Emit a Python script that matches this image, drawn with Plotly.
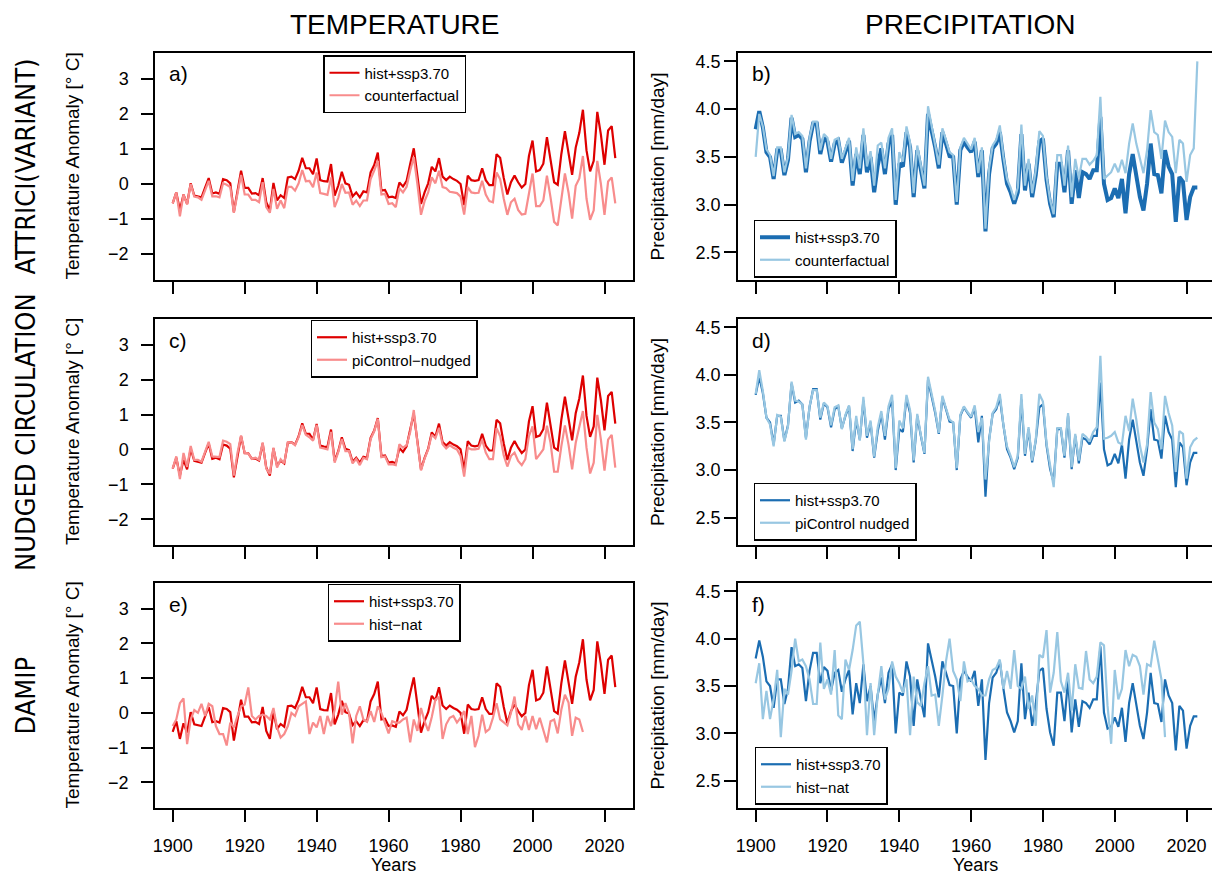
import plotly.graph_objects as go

# The page body adds an 8 px margin; the figure is sized to fit inside the window.
OX, OY = 8, 8
W, H = 1220 - OX, 877 - OY

years = list(range(1900, 2024))
years_nat = list(range(1900, 2015))

# ---------------- Temperature anomaly [deg C] ----------------
temp_hist = [
    -0.55, -0.24, -0.75, -0.30, -0.57, 0.02, -0.33, -0.35, -0.38, -0.10,
    0.17, -0.27, -0.24, -0.28, 0.14, 0.11, 0.02, -0.80, -0.19, 0.38,
    -0.11, -0.11, -0.27, -0.26, -0.32, 0.17, -0.52, -0.75, 0.03, -0.47,
    -0.32, -0.40, 0.19, 0.21, 0.14, 0.38, 0.75, 0.45, 0.45, 0.28,
    0.73, 0.11, 0.08, 0.07, 0.57, -0.33, -0.05, 0.35, 0.02, -0.02,
    -0.35, -0.24, -0.38, -0.21, -0.24, 0.33, 0.54, 0.90, -0.19, -0.17,
    -0.38, -0.36, -0.40, 0.04, -0.07, 0.09, 0.57, 1.02, 0.24, -0.57,
    -0.24, 0.02, 0.49, 0.36, 0.74, 0.21, 0.11, 0.21, 0.14, 0.09,
    0.00, -0.60, 0.24, 0.11, 0.09, 0.11, 0.45, 0.11, -0.03, -0.03,
    0.85, 0.75, 0.17, -0.30, 0.05, 0.24, 0.05, -0.10, 0.00, 0.80,
    1.24, 0.36, 0.40, 0.58, 1.34, 0.75, 0.05, -0.02, 0.85, 1.51,
    0.94, 0.26, 1.04, 1.46, 2.12, 0.96, 0.36, 0.66, 2.06, 1.41,
    0.55, 1.53, 1.65, 0.74]

temp_counterfactual = [
    -0.55, -0.24, -0.92, -0.30, -0.58, 0.00, -0.36, -0.38, -0.45, -0.17,
    0.09, -0.35, -0.35, -0.38, 0.02, -0.02, -0.09, -0.82, -0.30, 0.26,
    -0.30, -0.30, -0.45, -0.45, -0.52, 0.05, -0.66, -0.82, -0.14, -0.71,
    -0.47, -0.69, -0.08, -0.08, -0.19, 0.02, 0.40, 0.08, 0.09, -0.09,
    0.33, -0.26, -0.28, -0.31, 0.19, -0.66, -0.40, 0.00, -0.25, -0.24,
    -0.59, -0.47, -0.63, -0.47, -0.47, 0.14, 0.38, 0.66, -0.30, -0.28,
    -0.57, -0.55, -0.66, -0.12, -0.24, -0.08, 0.38, 0.77, 0.00, -0.88,
    -0.49, -0.24, 0.19, 0.02, 0.38, -0.09, -0.12, -0.22, -0.24, -0.26,
    -0.36, -0.87, -0.09, -0.24, -0.26, -0.25, 0.09, -0.30, -0.49, -0.52,
    0.33, 0.14, -0.42, -0.88, -0.52, -0.42, -0.74, -0.87, -0.85, -0.28,
    0.30, -0.63, -0.63, -0.47, 0.24, -0.38, -1.08, -1.18, -0.47, 0.30,
    -0.24, -0.99, -0.05, 0.16, 0.80, -0.42, -1.02, -0.75, 0.66, 0.00,
    -0.88, 0.07, 0.19, -0.55]

temp_nudged = [
    -0.55, -0.20, -0.85, -0.10, -0.50, 0.10, -0.30, -0.30, -0.35, -0.05,
    0.22, -0.20, -0.20, -0.22, 0.25, 0.22, 0.15, -0.75, -0.10, 0.40,
    -0.10, -0.12, -0.27, -0.24, -0.30, 0.20, -0.55, -0.70, 0.05, -0.52,
    -0.28, -0.40, 0.20, 0.20, 0.12, 0.35, 0.70, 0.42, 0.35, 0.25,
    0.70, 0.05, 0.03, 0.00, 0.50, -0.38, -0.08, 0.30, -0.05, -0.05,
    -0.40, -0.27, -0.45, -0.24, -0.28, 0.30, 0.52, 0.88, -0.22, -0.20,
    -0.43, -0.42, -0.45, 0.15, 0.05, 0.12, 0.50, 1.13, 0.20, -0.60,
    -0.26, 0.00, 0.42, 0.32, 0.62, 0.15, 0.03, 0.12, 0.05, 0.00,
    -0.19, -0.78, 0.05, 0.00, 0.00, 0.02, 0.28, -0.09, -0.28, -0.28,
    0.61, 0.38, -0.17, -0.49, -0.19, -0.09, -0.33, -0.45, -0.28, 0.38,
    0.66, -0.28, -0.14, 0.00, 0.68, 0.19, -0.64, -0.64, 0.09, 0.69,
    0.14, -0.57, 0.19, 0.61, 1.10, 0.05, -0.69, -0.38, 0.99, 0.28,
    -0.61, 0.28, 0.42, -0.52]

temp_histnat = [
    -0.38, -0.19, 0.28, 0.42, -0.90, -0.19, 0.08, 0.00, 0.26, -0.09,
    0.26, 0.19, -0.38, -0.61, -0.61, -0.94, -0.28, -0.42, -0.09, 0.19,
    0.24, 0.73, -0.09, -0.19, -0.09, -0.05, -0.09, -0.19, 0.14, -0.42,
    -0.71, -0.61, -0.38, 0.00, -0.09, 0.19, 0.26, 0.33, -0.61, -0.28,
    -0.42, -0.09, -0.61, -0.09, -0.38, 0.09, 0.90, -0.05, 0.28, 0.00,
    -0.88, -0.09, 0.19, -0.19, -0.26, 0.05, -0.26, 0.19, 0.00, -0.28,
    -0.59, -0.24, -0.28, -0.28, -0.19, -0.14, -0.85, -0.19, -0.52, 0.14,
    -0.24, -0.52, -0.12, 0.38, 0.45, -0.75, -0.33, -0.14, -0.09, -0.28,
    -0.14, 0.05, -0.61, -0.09, -0.99, -0.66, -0.05, -0.55, -0.47, -0.14,
    0.28, -0.19, -0.28, -0.36, 0.00, 0.47, -0.33, -0.49, -0.09, -0.49,
    -0.09, -0.47, -0.14, -0.47, -0.85, -0.24, -0.19, -0.59, 0.09, 0.52,
    0.30, -0.66, -0.14, -0.19, -0.55]

# ---------------- Precipitation [mm/day] ----------------
prec_hist = [
    3.79, 3.98, 3.81, 3.55, 3.50, 3.27, 3.57, 3.57, 3.31, 3.47,
    3.91, 3.71, 3.73, 3.69, 3.34, 3.66, 3.85, 3.85, 3.53, 3.70,
    3.66, 3.45, 3.64, 3.67, 3.44, 3.57, 3.67, 3.20, 3.53, 3.32,
    3.73, 3.34, 3.50, 3.13, 3.41, 3.59, 3.32, 3.64, 3.73, 3.00,
    3.43, 3.40, 3.76, 3.60, 3.08, 3.57, 3.36, 3.17, 3.95, 3.79,
    3.60, 3.38, 3.76, 3.64, 3.51, 3.50, 3.00, 3.57, 3.66, 3.60,
    3.55, 3.66, 3.29, 3.57, 2.72, 3.32, 3.59, 3.64, 3.76, 3.47,
    3.22, 3.13, 3.01, 3.13, 3.74, 3.15, 3.43, 3.08, 3.31, 3.66,
    3.69, 3.26, 3.01, 2.87, 3.43, 3.43, 3.13, 3.57, 3.01, 3.36,
    3.07, 3.34, 3.32, 3.27, 3.36, 3.36, 3.92, 3.22, 3.05, 3.07,
    3.17, 3.07, 3.27, 2.91, 3.32, 3.53, 3.32, 3.08, 2.94, 3.22,
    3.64, 3.32, 3.31, 3.12, 3.57, 3.40, 3.32, 2.82, 3.29, 3.24,
    2.84, 3.08, 3.18, 3.18]

prec_counterfactual = [
    3.50, 3.95, 3.82, 3.58, 3.52, 3.30, 3.60, 3.60, 3.34, 3.50,
    3.94, 3.74, 3.76, 3.72, 3.38, 3.70, 3.87, 3.87, 3.57, 3.74,
    3.70, 3.48, 3.68, 3.70, 3.48, 3.60, 3.70, 3.25, 3.60, 3.38,
    3.80, 3.40, 3.56, 3.20, 3.62, 3.65, 3.38, 3.70, 3.80, 3.05,
    3.55, 3.45, 3.82, 3.65, 3.12, 3.62, 3.40, 3.20, 4.03, 3.82,
    3.64, 3.42, 3.80, 3.67, 3.55, 3.52, 3.03, 3.60, 3.70, 3.64,
    3.58, 3.70, 3.33, 3.60, 2.75, 3.38, 3.62, 3.68, 3.83, 3.50,
    3.27, 3.18, 3.05, 3.18, 3.84, 3.20, 3.48, 3.12, 3.36, 3.77,
    3.72, 3.30, 3.05, 2.90, 3.52, 3.52, 3.20, 3.62, 3.08, 3.48,
    3.28, 3.48, 3.48, 3.42, 3.46, 3.52, 4.13, 3.27, 3.31, 3.34,
    3.43, 3.34, 3.47, 3.33, 3.64, 3.85, 3.64, 3.47, 3.33, 3.57,
    3.99, 3.76, 3.73, 3.48, 3.88, 3.76, 3.71, 3.33, 3.68, 3.64,
    3.24, 3.52, 3.59, 4.50]

prec_nudged = [
    3.80, 4.05, 3.83, 3.55, 3.48, 3.25, 3.58, 3.56, 3.30, 3.46,
    3.93, 3.73, 3.72, 3.69, 3.32, 3.67, 3.84, 3.84, 3.55, 3.71,
    3.67, 3.47, 3.66, 3.68, 3.43, 3.58, 3.68, 3.22, 3.57, 3.31,
    3.77, 3.36, 3.52, 3.14, 3.45, 3.62, 3.36, 3.67, 3.79, 3.02,
    3.52, 3.44, 3.79, 3.63, 3.10, 3.59, 3.37, 3.18, 3.98, 3.80,
    3.62, 3.39, 3.78, 3.65, 3.53, 3.50, 3.02, 3.58, 3.67, 3.61,
    3.56, 3.68, 3.40, 3.55, 2.90, 3.30, 3.60, 3.66, 3.80, 3.47,
    3.25, 3.15, 3.03, 3.15, 3.80, 3.17, 3.45, 3.10, 3.32, 3.80,
    3.72, 3.28, 3.03, 2.82, 3.44, 3.44, 3.15, 3.60, 3.03, 3.38,
    3.10, 3.38, 3.35, 3.30, 3.40, 3.45, 4.20, 3.33, 3.34, 3.36,
    3.40, 3.29, 3.27, 3.57, 3.41, 3.75, 3.53, 3.26, 3.08, 3.27,
    3.82, 3.50, 3.43, 3.22, 3.78, 3.60, 3.47, 2.98, 3.41, 3.38,
    2.91, 3.24, 3.31, 3.34]

prec_histnat = [
    3.53, 3.74, 3.15, 3.45, 3.15, 3.36, 3.67, 2.96, 3.47, 3.41,
    3.66, 4.00, 3.76, 3.78, 3.71, 3.57, 3.31, 3.31, 3.96, 3.47,
    3.57, 3.41, 3.88, 3.19, 3.15, 3.78, 3.67, 3.88, 4.14, 4.18,
    3.74, 2.98, 3.53, 2.98, 3.41, 3.71, 3.36, 3.47, 3.76, 3.60,
    3.53, 3.43, 3.57, 2.98, 3.60, 3.33, 3.29, 3.53, 3.71, 3.40,
    3.41, 3.08, 3.40, 3.76, 4.00, 3.66, 3.57, 3.34, 3.76, 3.55,
    3.57, 3.50, 3.47, 3.40, 3.40, 3.57, 3.67, 3.69, 3.78, 3.47,
    3.66, 3.47, 3.88, 3.50, 3.47, 3.60, 3.26, 3.40, 3.08, 3.83,
    3.80, 4.09, 3.43, 3.64, 4.07, 3.55, 3.43, 3.64, 3.24, 3.73,
    3.48, 3.47, 3.87, 3.57, 3.53, 3.60, 3.96, 3.93, 3.29, 2.89,
    3.67, 3.36, 3.47, 3.88, 3.71, 3.83, 3.81, 3.71, 3.41, 3.73,
    3.71, 3.98, 3.78, 3.57, 2.96]

col_titles = ["TEMPERATURE", "PRECIPITATION"]
row_titles = ["ATTRICI(VARIANT)", "NUDGED CIRCULATION", "DAMIP"]
panel_letters = ["a)", "b)", "c)", "d)", "e)", "f)"]
temp_cf_names = ["counterfactual", "piControl\u2212nudged", "hist\u2212nat"]
prec_cf_names = ["counterfactual", "piControl nudged", "hist\u2212nat"]
hist_name = "hist+ssp3.70"
temp_ticks = [-2, -1, 0, 1, 2, 3]
prec_ticks = [2.5, 3.0, 3.5, 4.0, 4.5]
year_ticks = [1900, 1920, 1940, 1960, 1980, 2000, 2020]

RED_D, RED_L = "#DE0000", "#F88C8C"
BLU_D, BLU_L = "#1B6DB2", "#98C7E2"
FONT = "Liberation Sans, Arial, Helvetica, sans-serif"
NARROW = "Liberation Sans Narrow, Arial Narrow, DejaVu Sans Condensed, Liberation Sans, sans-serif"

# pixel geometry (screen pixels of the reference)
col_x = [(155, 633), (738, 1215)]
row_y = [(53, 280), (319, 545), (583, 808)]

def px_x(p):
    return (p - OX) / W

def px_y(p):
    return 1 - (p - OY) / H

fig = go.Figure()

temp_cf_data = [(years, temp_counterfactual), (years, temp_nudged), (years_nat, temp_histnat)]
prec_cf_data = [(years, prec_counterfactual), (years, prec_nudged), (years_nat, prec_histnat)]

legend_centers = {1: (394.5, 84), 2: (825, 248.5), 3: (394, 348.5),
                  4: (835, 511.5), 5: (394, 612.5), 6: (821, 775.5)}

layout = dict(width=W, height=H, margin=dict(l=0, r=0, t=0, b=0, autoexpand=False),
              paper_bgcolor="white", plot_bgcolor="white",
              font=dict(family=FONT, color="black"), annotations=[])

for r in range(3):
    for c in range(2):
        k = r * 2 + c + 1
        sfx = "" if k == 1 else str(k)
        leg = "legend" if k == 1 else "legend%d" % k
        if c == 0:
            xs_cf, ys_cf = temp_cf_data[r]
            fig.add_trace(go.Scatter(x=years, y=temp_hist, mode="lines", name=hist_name,
                                     line=dict(color=RED_D, width=2.2),
                                     xaxis="x" + sfx, yaxis="y" + sfx, legend=leg))
            fig.add_trace(go.Scatter(x=xs_cf, y=ys_cf, mode="lines", name=temp_cf_names[r],
                                     line=dict(color=RED_L, width=2.2),
                                     xaxis="x" + sfx, yaxis="y" + sfx, legend=leg))
        else:
            xs_cf, ys_cf = prec_cf_data[r]
            fig.add_trace(go.Scatter(x=years, y=prec_hist, mode="lines", name=hist_name,
                                     line=dict(color=BLU_D, width=4 if r == 0 else 2.2),
                                     xaxis="x" + sfx, yaxis="y" + sfx, legend=leg))
            fig.add_trace(go.Scatter(x=xs_cf, y=ys_cf, mode="lines", name=prec_cf_names[r],
                                     line=dict(color=BLU_L, width=2.2),
                                     xaxis="x" + sfx, yaxis="y" + sfx, legend=leg))
        x0, x1 = col_x[c]
        y0, y1 = row_y[r]
        layout["xaxis" + sfx] = dict(
            domain=[px_x(x0), px_x(x1)], range=[1895.08, 2027.92], anchor="y" + sfx,
            automargin=False,
            showline=True, mirror=True, linecolor="black", linewidth=1.5,
            ticks="outside", ticklen=12, tickwidth=1.5, tickcolor="black",
            tickvals=year_ticks, showticklabels=(r == 2), ticklabelstandoff=9,
            tickfont=dict(size=18, family=FONT, color="black"),
            showgrid=False, zeroline=False)
        if c == 0:
            yrng, yt, yfmt, ystand = [-2.74, 3.74], temp_ticks, "d", 9
        else:
            yrng, yt, yfmt, ystand = [2.212, 4.588], prec_ticks, ".1f", 0
        layout["yaxis" + sfx] = dict(
            domain=[px_y(y1), px_y(y0)], range=yrng, anchor="x" + sfx,
            automargin=False,
            showline=True, mirror=True, linecolor="black", linewidth=1.5,
            ticks="outside", ticklen=12, tickwidth=1.5, tickcolor="black",
            tickvals=yt, tickformat=yfmt, ticklabelstandoff=ystand,
            tickfont=dict(size=18, family=FONT, color="black"),
            showgrid=False, zeroline=False)
        cx, cy = legend_centers[k]
        layout[leg] = dict(x=px_x(cx), y=px_y(cy), xanchor="center", yanchor="middle",
                           bgcolor="white", bordercolor="black", borderwidth=1.5,
                           font=dict(size=15, family=FONT, color="black"),
                           itemwidth=30, tracegroupgap=0)
        # panel letter
        layout["annotations"].append(dict(
            text=panel_letters[k - 1], xref="paper", yref="paper",
            x=px_x(x0 + 12), y=px_y(y0 + 21), xanchor="left", yanchor="middle",
            showarrow=False, font=dict(size=21, family=FONT, color="black")))
        # y-axis titles
        layout["annotations"].append(dict(
            text="Temperature Anomaly [\u00b0 C]" if c == 0 else "Precipitation [mm/day]",
            xref="paper", yref="paper",
            x=px_x(72 if c == 0 else 657), y=px_y((y0 + y1) / 2),
            xanchor="center", yanchor="middle", textangle=-90,
            showarrow=False, font=dict(size=19, family=FONT, color="black")))

# column titles
for c, t in enumerate(col_titles):
    layout["annotations"].append(dict(
        text=t, xref="paper", yref="paper", x=px_x(395 if c == 0 else 970), y=px_y(24),
        xanchor="center", yanchor="middle", showarrow=False,
        font=dict(size=28, family=FONT, color="black")))
# row titles
for r, t in enumerate(row_titles):
    y0, y1 = row_y[r]
    layout["annotations"].append(dict(
        text=t, xref="paper", yref="paper", x=px_x(25), y=px_y((y0 + y1) / 2),
        xanchor="center", yanchor="middle", textangle=-90, showarrow=False,
        font=dict(size=27, family=NARROW, color="black")))
# Years
for c in range(2):
    x0, x1 = col_x[c]
    layout["annotations"].append(dict(
        text="Years", xref="paper", yref="paper", x=px_x((x0 + x1) / 2 - 1), y=px_y(865),
        xanchor="center", yanchor="middle", showarrow=False,
        font=dict(size=18, family=FONT, color="black")))

fig.update_layout(**layout)
fig.write_html("out.html")
